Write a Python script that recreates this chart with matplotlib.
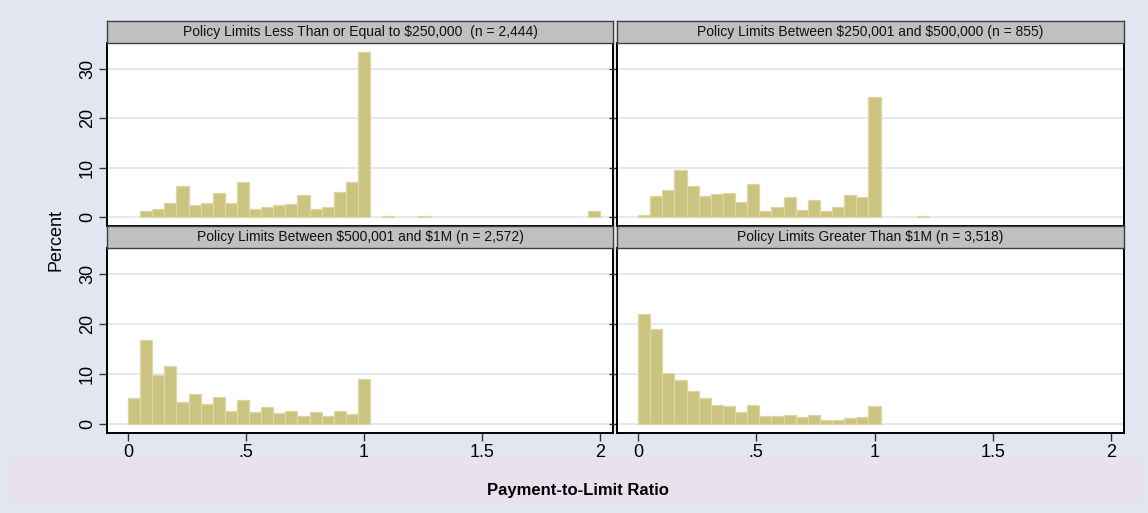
import numpy as np
import matplotlib.pyplot as plt
from matplotlib.patches import Rectangle

plt.rcParams['font.family'] = ['Liberation Sans', 'DejaVu Sans']

# percent of claims per bin, 39 bins of equal width over 0..2
n_bins = 39
bin_width = 2 / n_bins

titles = [
    "Policy Limits Less Than or Equal to $250,000  (n = 2,444)",
    "Policy Limits Between $250,001 and $500,000 (n = 855)",
    "Policy Limits Between $500,001 and $1M (n = 2,572)",
    "Policy Limits Greater Than $1M (n = 3,518)",
]

pct_le_250k = [0, 1.15, 1.7, 2.9, 6.2, 2.4, 2.8, 4.8, 2.8, 7.0,
               1.55, 2.0, 2.5, 2.6, 4.5, 1.55, 2.0, 5.1, 7.0, 33.3,
               0, 0.3, 0, 0, 0.3, 0, 0, 0, 0, 0,
               0, 0, 0, 0, 0, 0, 0, 0, 1.3]

pct_250k_500k = [0.35, 4.3, 5.4, 9.6, 6.35, 4.25, 4.6, 4.9, 3.0, 6.75,
                 1.15, 1.95, 4.1, 1.5, 3.4, 1.15, 1.95, 4.4, 4.0, 24.2,
                 0, 0, 0, 0.3, 0, 0, 0, 0, 0, 0,
                 0, 0, 0, 0, 0, 0, 0, 0, 0]

pct_500k_1m = [5.3, 16.9, 9.9, 11.6, 4.4, 5.95, 4.0, 5.35, 2.6, 4.8,
               2.35, 3.4, 2.15, 2.7, 1.6, 2.35, 1.6, 2.7, 2.1, 8.95,
               0, 0, 0, 0, 0, 0, 0, 0, 0, 0,
               0, 0, 0, 0, 0, 0, 0, 0, 0]

pct_gt_1m = [22.0, 19.0, 10.2, 8.8, 6.6, 5.15, 3.75, 3.6, 2.35, 3.8,
             1.55, 1.55, 1.75, 1.35, 1.75, 0.8, 0.75, 1.25, 1.35, 3.55,
             0, 0, 0, 0, 0, 0, 0, 0, 0, 0,
             0, 0, 0, 0, 0, 0, 0, 0, 0]

y_ticks = [0, 10, 20, 30]
x_ticks = [0, 0.5, 1, 1.5, 2]
x_tick_labels = ["0", ".5", "1", "1.5", "2"]

W, H = 1148, 513
bg = "#E2E6F0"
bar_color = "#CBC480"
bar_edge = "#DCD7A4"
grid_color = "#E0E6F0"
strip_color = "#C0C0C0"

fig = plt.figure(figsize=(W / 100, H / 100), dpi=100)
fig.patch.set_facecolor(bg)

# band behind the x axis title
fig.add_artist(Rectangle((8 / W, 1 - 505 / H), 1135 / W, 48 / H,
                         transform=fig.transFigure, facecolor="#E8E2EE",
                         edgecolor="none", zorder=0))


def px_axes(x0, y0, x1, y1):
    return fig.add_axes([x0 / W, 1 - y1 / H, (x1 - x0) / W, (y1 - y0) / H])


panels = [
    (107, 43, 613, 226),
    (617, 43, 1124, 226),
    (107, 248, 613, 433),
    (617, 248, 1124, 433),
]
data = [pct_le_250k, pct_250k_500k, pct_500k_1m, pct_gt_1m]

edges = np.arange(n_bins) * bin_width

for i, ((x0, y0, x1, y1), vals, title) in enumerate(zip(panels, data, titles)):
    ax = px_axes(x0, y0, x1, y1)
    ax.set_facecolor("white")
    vals = np.array(vals)
    keep = vals > 0
    ax.bar(edges[keep], vals[keep], width=bin_width, align="edge",
           color=bar_color, edgecolor=bar_edge, linewidth=0.9, zorder=2)
    ax.set_xlim(-0.089, 2.055)
    ax.set_ylim(-1.8, 35.2)
    ax.set_yticks(y_ticks)
    for y in y_ticks:
        ax.axhline(y, color=grid_color, linewidth=1.2, zorder=1)
    for s in ax.spines.values():
        s.set_color("black")
        s.set_linewidth(1.4)
    ax.tick_params(axis="y", direction="out", length=6, width=1,
                   color="#333333", pad=2)
    if i % 2 == 0:
        ax.set_yticklabels([str(t) for t in y_ticks], rotation=90,
                           va="center", fontsize=13)
    else:
        ax.set_yticklabels([])
    if i >= 2:
        ax.set_xticks(x_ticks)
        ax.set_xticklabels(x_tick_labels, fontsize=13)
        ax.tick_params(axis="x", direction="out", length=6, width=1,
                       color="#333333", pad=2)
    else:
        ax.set_xticks([])

    # strip title
    sax = px_axes(x0, y0 - 22, x1, y0)
    sax.set_facecolor(strip_color)
    sax.set_xticks([])
    sax.set_yticks([])
    for s in sax.spines.values():
        s.set_color("#404040")
        s.set_linewidth(1.0)
    sax.text(0.5, 0.5, title, ha="center", va="center", fontsize=10,
             color="#111111", transform=sax.transAxes, parse_math=False)

fig.text(56 / W, 1 - 240 / H, "Percent", rotation=90, ha="center",
         va="center", fontsize=13)
fig.text(578 / W, 1 - 491 / H, "Payment-to-Limit Ratio", ha="center",
         va="center", fontsize=12, fontweight="bold")

fig.savefig("out.png", dpi=100, facecolor=bg)
